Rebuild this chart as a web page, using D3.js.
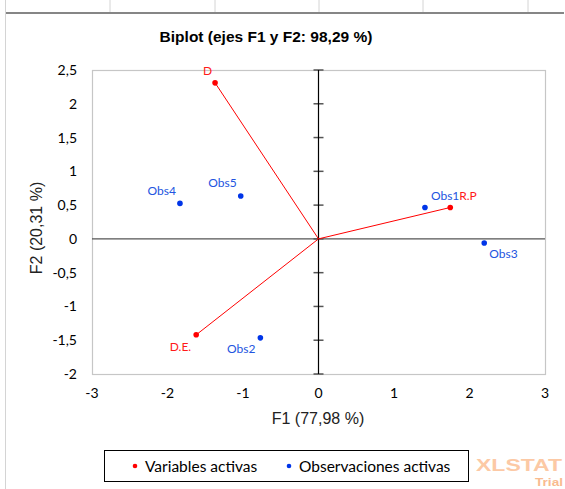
<!DOCTYPE html>
<html>
<head>
<meta charset="utf-8">
<style>
  body { margin: 0; background: #fff; }
  svg { display: block; }
  .tick-label { font-family: Lato, "Open Sans", sans-serif; font-size: 14px; fill: #000; }
  .axis-title { font-family: "Liberation Sans", Arial, sans-serif; font-size: 16px; fill: #222; }
  .pt-label { font-family: Lato, "Open Sans", sans-serif; font-size: 12px; }
</style>
</head>
<body>
<script src="https://d3js.org/d3.v7.min.js"></script>
<script>

// active variables (red vectors)
var varNames = ["D", "R.P", "D.E."]
var varF1 = [-1.37, 1.745, -1.62]
var varF2 = [2.31, 0.465, -1.42]

// active observations (blue points)
var obsNames = ["Obs1", "Obs2", "Obs3", "Obs4", "Obs5"]
var obsF1 = [1.41, -0.77, 2.195, -1.835, -1.03]
var obsF2 = [0.465, -1.465, -0.06, 0.525, 0.635]

var xTicks = [-3, -2, -1, 0, 1, 2, 3]
var yTicks = [-2, -1.5, -1, -0.5, 0, 0.5, 1, 1.5, 2, 2.5]

var legendNames = ["Variables activas", "Observaciones activas"]

// label placement for each point name
var labelPos = {
  "D":    {anchor: "end",   dx: -3, dy: -8},
  "R.P":  {anchor: "start", dx: 9,  dy: -7},
  "D.E.": {anchor: "end",   dx: -5, dy: 16},
  "Obs1": {anchor: "start", dx: 6,  dy: -7},
  "Obs2": {anchor: "end",   dx: -5, dy: 15},
  "Obs3": {anchor: "start", dx: 5,  dy: 15},
  "Obs4": {anchor: "end",   dx: -4, dy: -8},
  "Obs5": {anchor: "end",   dx: -4, dy: -9}
}

var red = "#ff0000", blue = "#0035e8", blueText = "#2254e0"

var W = 565, H = 489
var plot = {left: 92, right: 545, top: 70, bottom: 374}

var svg = d3.select("body").append("svg")
    .attr("width", W)
    .attr("height", H)

// spreadsheet grid behind the chart
var gridX = [110, 215, 319, 423, 528]
svg.selectAll(".gcol").data(gridX).enter().append("line")
    .attr("x1", function(d) { return d }).attr("x2", function(d) { return d })
    .attr("y1", 0).attr("y2", 12)
    .attr("stroke", "#d4d4d4")
svg.append("line").attr("x1", 5.5).attr("x2", 5.5).attr("y1", 0).attr("y2", H)
    .attr("stroke", "#d4d4d4")
svg.append("line").attr("x1", 6).attr("x2", 564).attr("y1", 13).attr("y2", 13)
    .attr("stroke", "#868686").attr("stroke-width", 2)

var x = d3.scaleLinear().domain([-3, 3]).range([plot.left, plot.right])
var y = d3.scaleLinear().domain([-2, 2.5]).range([plot.bottom, plot.top])

// title
svg.append("text")
    .attr("x", 266).attr("y", 42)
    .attr("text-anchor", "middle")
    .style("font-family", "'Liberation Sans', Arial, sans-serif")
    .style("font-size", "15.5px")
    .style("font-weight", "bold")
    .text("Biplot (ejes F1 y F2: 98,29 %)")

// plot frame
svg.append("rect")
    .attr("x", plot.left + 0.5).attr("y", plot.top + 0.5)
    .attr("width", plot.right - plot.left).attr("height", plot.bottom - plot.top)
    .attr("fill", "none").attr("stroke", "#c6c6c6").attr("stroke-width", 1.2)

// tick labels
svg.selectAll(".xt").data(xTicks).enter().append("text")
    .attr("class", "tick-label")
    .attr("x", function(d) { return x(d) })
    .attr("y", 398)
    .attr("text-anchor", "middle")
    .text(function(d) { return d })

var fmt = function(d) { return String(d).replace(".", ",") }
svg.selectAll(".yt").data(yTicks).enter().append("text")
    .attr("class", "tick-label")
    .attr("x", 77)
    .attr("y", function(d) { return y(d) + 5 })
    .attr("text-anchor", "end")
    .text(fmt)

// axes through the origin
svg.append("line")
    .attr("x1", plot.left).attr("x2", plot.right)
    .attr("y1", y(0)).attr("y2", y(0))
    .attr("stroke", "#555").attr("stroke-width", 1.2)

svg.selectAll(".ymark").data(yTicks).enter().append("line")
    .attr("x1", x(0) - 5).attr("x2", x(0) + 5)
    .attr("y1", function(d) { return y(d) }).attr("y2", function(d) { return y(d) })
    .attr("stroke", "#555").attr("stroke-width", 1.5)

svg.append("line")
    .attr("x1", x(0)).attr("x2", x(0))
    .attr("y1", plot.top).attr("y2", plot.bottom)
    .attr("stroke", "#000").attr("stroke-width", 1.2)

// axis titles
svg.append("text")
    .attr("class", "axis-title")
    .attr("x", 318).attr("y", 424)
    .attr("text-anchor", "middle")
    .text("F1 (77,98 %)")

svg.append("text")
    .attr("class", "axis-title")
    .attr("transform", "translate(42,228) rotate(-90)")
    .attr("text-anchor", "middle")
    .text("F2 (20,31 %)")

// variable vectors
var vars = varNames.map(function(n, i) { return {name: n, f1: varF1[i], f2: varF2[i]} })
var obs = obsNames.map(function(n, i) { return {name: n, f1: obsF1[i], f2: obsF2[i]} })

svg.selectAll(".vec").data(vars).enter().append("line")
    .attr("x1", x(0)).attr("y1", y(0))
    .attr("x2", function(d) { return x(d.f1) })
    .attr("y2", function(d) { return y(d.f2) })
    .attr("stroke", red).attr("stroke-width", 1)

svg.selectAll(".obsdot").data(obs).enter().append("circle")
    .attr("cx", function(d) { return x(d.f1) })
    .attr("cy", function(d) { return y(d.f2) })
    .attr("r", 2.8)
    .attr("fill", blue)

svg.selectAll(".vardot").data(vars).enter().append("circle")
    .attr("cx", function(d) { return x(d.f1) })
    .attr("cy", function(d) { return y(d.f2) })
    .attr("r", 2.8)
    .attr("fill", red)

function addLabels(data, color) {
  svg.selectAll(null).data(data).enter().append("text")
      .attr("class", "pt-label")
      .attr("x", function(d) { return x(d.f1) + labelPos[d.name].dx })
      .attr("y", function(d) { return y(d.f2) + labelPos[d.name].dy })
      .attr("text-anchor", function(d) { return labelPos[d.name].anchor })
      .style("fill", color)
      .text(function(d) { return d.name })
}
addLabels(obs, blueText)
addLabels(vars, "#ff1a1a")

// legend
svg.append("rect")
    .attr("x", 104.5).attr("y", 450.5)
    .attr("width", 364).attr("height", 31)
    .attr("fill", "#fff").attr("stroke", "#000").attr("stroke-width", 1)

var legX = [135, 289]
var legend = svg.selectAll(".leg").data(legendNames).enter().append("g")
    .attr("transform", function(d, i) { return "translate(" + legX[i] + ",466)" })
legend.append("circle")
    .attr("r", 2.3)
    .attr("fill", function(d, i) { return i == 0 ? red : blue })
legend.append("text")
    .attr("x", 10).attr("y", 5.5)
    .style("font-family", "Lato, 'Open Sans', sans-serif")
    .style("font-size", "15.5px")
    .text(function(d) { return d })

// watermark (wide lettering, runs off the right edge like the original)
svg.append("text")
    .attr("x", 476).attr("y", 471)
    .attr("textLength", 86).attr("lengthAdjust", "spacingAndGlyphs")
    .style("font-family", "'Liberation Sans', Arial, sans-serif")
    .style("font-size", "16px").style("font-weight", "bold")
    .style("fill", "#fcc9a5")
    .text("XLSTAT")
svg.append("text")
    .attr("x", 535).attr("y", 486)
    .attr("textLength", 28).attr("lengthAdjust", "spacingAndGlyphs")
    .style("font-family", "'Liberation Sans', Arial, sans-serif")
    .style("font-size", "11px").style("font-weight", "bold")
    .style("fill", "#f9bb90")
    .text("Trial")

</script>
</body>
</html>
